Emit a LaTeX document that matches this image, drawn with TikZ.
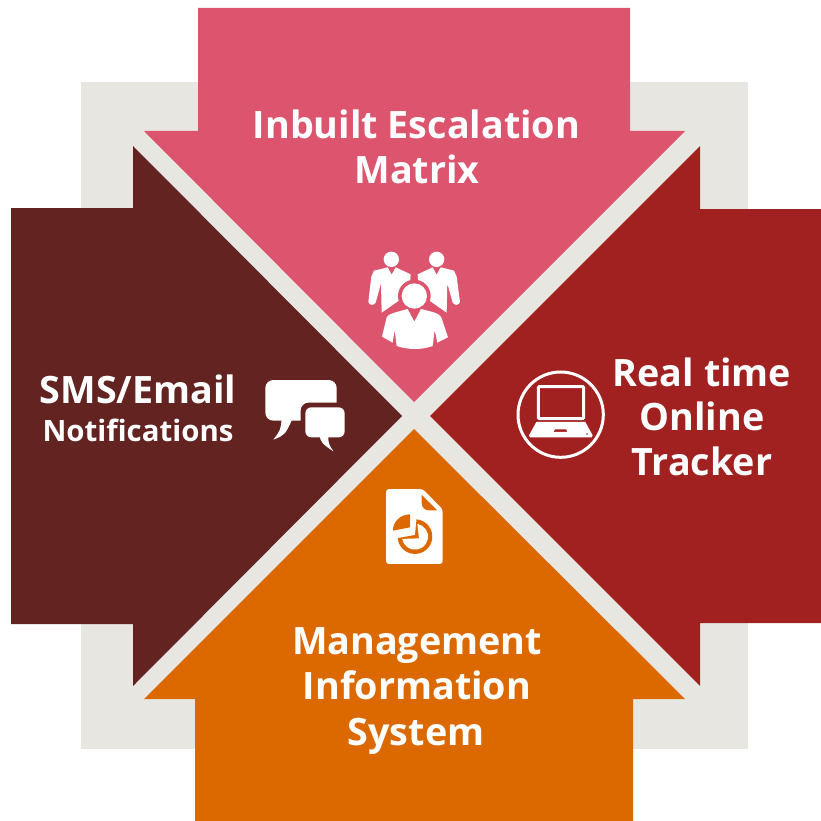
\documentclass[tikz,border=0pt]{standalone}
\usepackage{fontspec}
\setmainfont{Open Sans}
\definecolor{cgray}{HTML}{E8E6E1}
\definecolor{cpink}{HTML}{DD546E}
\definecolor{cred}{HTML}{A12020}
\definecolor{cdark}{HTML}{622321}
\definecolor{corange}{HTML}{DC6900}
\tikzset{
  lbl/.style={text=white,font=\bfseries\fontsize{#1}{#1}\selectfont,inner sep=0pt,anchor=base}
}
\begin{document}
\begin{tikzpicture}[x=1pt,y=-1pt]
\useasboundingbox (0,0) rectangle (821,821);
\fill[cgray] (81,82) rectangle (748,749);
\fill[cgray] (405,395) rectangle (424,436);
\fill[cpink] (198,8)--(630,8)--(630,131)--(685,131)--(414,402)--(144,131)--(198,131)--cycle;
\fill[cred] (430,416)--(700,146)--(700,209)--(821,209)--(821,623)--(700,623)--(700,686)--cycle;
\fill[corange] (414,429)--(685,699)--(633,699)--(633,821)--(195,821)--(195,699)--(144,699)--cycle;
\fill[cdark] (402,416)--(133,146)--(133,208)--(11,208)--(11,624)--(133,624)--(133,686)--cycle;
\node[lbl=37.7] (t1a) at (416.5,138.5) {Inbuilt Escalation};
\node[lbl=37.7] (t1b) at (417,183) {Matrix};
\node[lbl=37.7] (t2a) at (702,386) {Real time};
\node[lbl=37.7] (t2b) at (702,430) {Online};
\node[lbl=37.7] (t2c) at (702,475) {Tracker};
\node[lbl=37.7] (t3a) at (417,654) {Management};
\node[lbl=37.7] (t3b) at (417,699) {Information};
\node[lbl=37.7] (t3c) at (416,745) {System};
\node[lbl=37.7] (t4a) at (138,403) {SMS/Email};
\node[lbl=29.4] (t4b) at (138,441) {Notifications};
% people icon
\begin{scope}[shift={(350,240)},x=0.3333pt,y=-0.3333pt]
 \fill[white] (124,58) circle (23);
 \fill[white] (260,58) circle (23);
 \fill[white] (72,92) -- (113,82) -- (125,104) -- (137,82) -- (182,103) -- (178,160) -- (95,218) -- (93,130) -- (77,188) .. controls (72,197) and (58,197) .. (55,186) -- (64,110) -- cycle;
 \fill[white] (312,92) -- (272,82) -- (260,104) -- (248,82) -- (203,103) -- (207,160) -- (290,218) -- (292,130) -- (308,188) .. controls (313,197) and (327,197) .. (330,186) -- (320,110) -- cycle;
 \fill[cpink] (193,168) circle (49);
 \path[fill=cpink,draw=cpink,line width=6.5pt,line join=round] (140,216) -- (173,207) -- (193,245) -- (213,207) -- (248,216) .. controls (262,220) and (272,226) .. (275,235) -- (294,292) -- (262,308) -- (254,270) -- (248,318) .. controls (215,330) and (175,330) .. (140,318) -- (134,270) -- (128,308) -- (96,290) -- (110,232) .. controls (114,224) and (126,220) .. cycle;
 \fill[white] (193,168) circle (38);
 \fill[white] (140,216) -- (173,207) -- (193,245) -- (213,207) -- (248,216) .. controls (262,220) and (272,226) .. (275,235) -- (294,292) -- (262,308) -- (254,270) -- (248,318) .. controls (215,330) and (175,330) .. (140,318) -- (134,270) -- (128,308) -- (96,290) -- (110,232) .. controls (114,224) and (126,220) .. cycle;
\end{scope}
% speech bubbles
\begin{scope}[shift={(250,360)},x=0.3333pt,y=-0.3333pt]
\fill[white,rounded corners=8pt] (46,60) rectangle (260,182);
\fill[white] (95,175) .. controls (92,210) .. (70,239) .. controls (105,225) .. (128,175) -- cycle;
\fill[cdark,rounded corners=8pt] (152,128) rectangle (300,250);
\fill[white,rounded corners=6pt] (166,142) rectangle (284,232);
\fill[white] (208,226) .. controls (215,250) .. (250,274) .. controls (235,250) .. (235,226) -- cycle;
\end{scope}
% laptop icon
\begin{scope}[shift={(505,360)},x=0.3333pt,y=-0.3333pt]
\draw[white,line width=3pt] (167,164) circle (128);
\draw[white,line width=3pt,rounded corners=1pt] (100,80) rectangle (236,176);
\fill[white,even odd rule] (94,186) -- (241,186) -- (263,226) -- (260,232) -- (75,232) -- (72,226) -- cycle
  (150,208) -- (184,208) -- (187,216) -- (145,216) -- cycle
  (246,222) circle (3.5);
\end{scope}
% report icon
\begin{scope}[shift={(370,480)},x=0.3333pt,y=-0.3333pt]
\fill[white,rounded corners=3pt] (48,27) -- (158,27) -- (218,88) -- (218,252) -- (48,252) -- cycle;
\fill[corange] (155,44) -- (202,91) -- (178,91) .. controls (164,91) and (155,82) .. (155,68) -- cycle;
\fill[corange] (120,103) -- (120,142) -- (69,152) .. controls (68,125) and (92,103) .. (120,103) -- cycle;
\fill[corange] (139.5,118) arc[start angle=-85,end angle=175,radius=52] -- (135,165) -- cycle;
\fill[white] (142,131.6) arc[start angle=-80,end angle=170,radius=39] -- (147,175) -- cycle;
\end{scope}
\end{tikzpicture}
\end{document}
